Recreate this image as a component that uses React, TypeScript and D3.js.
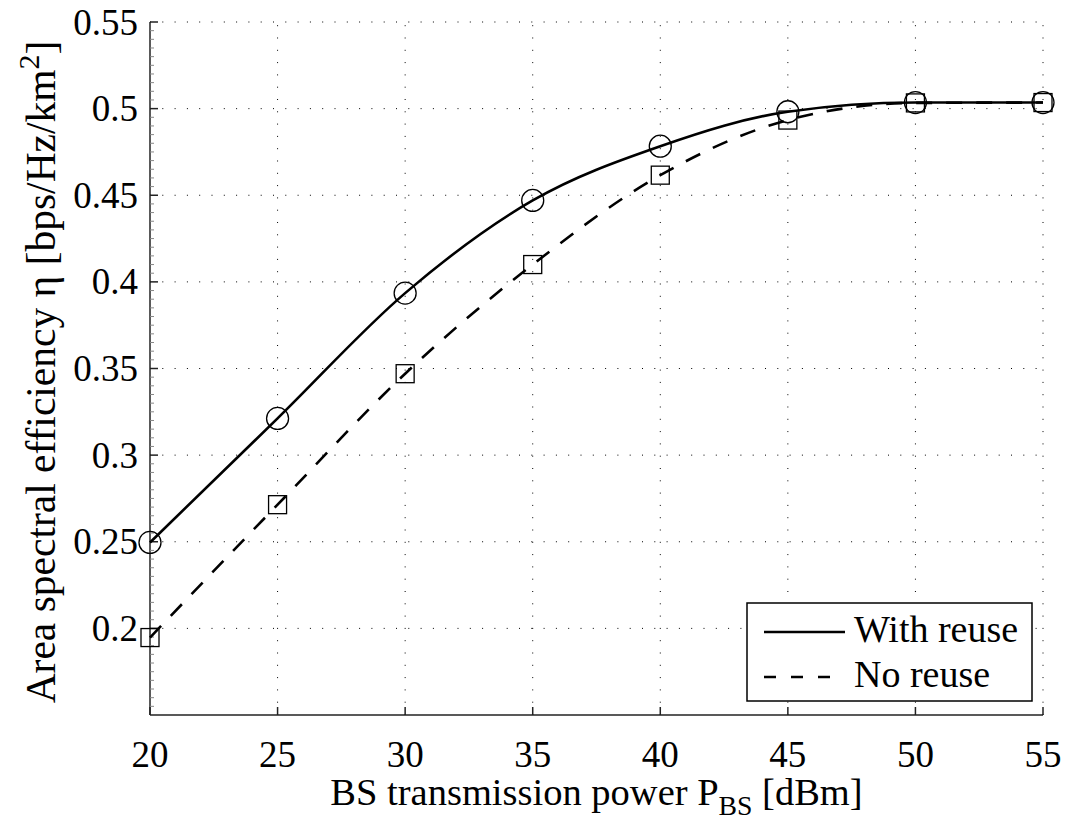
import React from "react";
import * as d3 from "d3";

// BS transmit power (dBm) at each evaluated point
const powers = [20, 25, 30, 35, 40, 45, 50, 55];
// Area spectral efficiency, with and without frequency reuse
const withReuse = [0.2496, 0.3212, 0.3935, 0.447, 0.4783, 0.4982, 0.5035, 0.5035];
const noReuse = [0.1947, 0.2714, 0.347, 0.41, 0.4616, 0.4934, 0.5033, 0.5035];

const xTicks = [20, 25, 30, 35, 40, 45, 50, 55];
const yTicks = [0.2, 0.25, 0.3, 0.35, 0.4, 0.45, 0.5, 0.55];
const yTickLabels = ["0.2", "0.25", "0.3", "0.35", "0.4", "0.45", "0.5", "0.55"];
const seriesNames = ["With reuse", "No reuse"];

const W = 1068;
const H = 821;
const left = 150;
const right = 1043;
const top = 22;
const bottom = 715;
const FONT = "Liberation Serif, Times New Roman, DejaVu Serif, serif";
const FS = 37;
const FS_X = 38.5;
const FS_Y = 41.5;
const FS_LEG = 38;

const txt: React.CSSProperties = { fontFamily: FONT };

export default function App() {
  const x = d3.scaleLinear().domain([20, 55]).range([left, right]);
  const y = d3.scaleLinear().domain([0.15, 0.55]).range([bottom, top]);

  const minorTicks = d3.range(0.155, 0.55, 0.005).filter(
    (v) => Math.abs(Math.round(v / 0.05) * 0.05 - v) > 1e-6
  );

  const line = d3
    .line<number>()
    .x((_, i) => x(powers[i]))
    .y((d) => y(d))
    .curve(d3.curveMonotoneX);

  const dot = "1,11.3";

  return (
    <svg
      width={W}
      height={H}
      style={{ position: "absolute", left: 0, top: 0, background: "#fff", fontFamily: FONT }}
    >
      <rect x={0} y={0} width={W} height={H} fill="#fff" />

      {/* dotted grid */}
      {xTicks.slice(1).map((t) => (
        <line
          key={"gx" + t}
          x1={x(t)}
          x2={x(t)}
          y1={bottom}
          y2={top}
          stroke="#000"
          strokeWidth={1}
          strokeDasharray={dot}
        />
      ))}
      {yTicks.map((t) => (
        <line
          key={"gy" + t}
          x1={left}
          x2={right}
          y1={y(t)}
          y2={y(t)}
          stroke="#000"
          strokeWidth={1}
          strokeDasharray={dot}
        />
      ))}

      {/* axes */}
      <line x1={left} x2={left} y1={top} y2={bottom} stroke="#222" strokeWidth={1.5} />
      <line x1={left} x2={right} y1={bottom} y2={bottom} stroke="#222" strokeWidth={1.5} />

      {/* minor y ticks */}
      {minorTicks.map((t, i) => (
        <line
          key={"my" + i}
          x1={left}
          x2={left + 4}
          y1={y(t)}
          y2={y(t)}
          stroke="#888"
          strokeWidth={1}
        />
      ))}

      {/* major ticks */}
      {yTicks.map((t) => (
        <line
          key={"ty" + t}
          x1={left}
          x2={left + 8}
          y1={y(t)}
          y2={y(t)}
          stroke="#222"
          strokeWidth={1.5}
        />
      ))}
      {xTicks.map((t) => (
        <line
          key={"tx" + t}
          x1={x(t)}
          x2={x(t)}
          y1={bottom}
          y2={bottom - 8}
          stroke="#222"
          strokeWidth={1.5}
        />
      ))}

      {/* tick labels */}
      {yTicks.map((t, i) => (
        <text
          key={"ly" + t}
          x={left - 12}
          y={y(t) + 12.5}
          fontSize={FS}
          textAnchor="end"
          fill="#000"
          style={txt}
        >
          {yTickLabels[i]}
        </text>
      ))}
      {xTicks.map((t) => (
        <text
          key={"lx" + t}
          x={x(t)}
          y={767}
          fontSize={FS}
          textAnchor="middle"
          fill="#000"
          style={txt}
        >
          {t}
        </text>
      ))}

      {/* curves */}
      <path d={line(withReuse) || ""} fill="none" stroke="#000" strokeWidth={2.6} />
      <path
        d={line(noReuse) || ""}
        fill="none"
        stroke="#000"
        strokeWidth={2.6}
        strokeDasharray="16,14"
      />

      {/* markers */}
      {withReuse.map((v, i) => (
        <circle
          key={"c" + i}
          cx={x(powers[i])}
          cy={y(v)}
          r={11}
          fill="none"
          stroke="#000"
          strokeWidth={1.3}
        />
      ))}
      {noReuse.map((v, i) => (
        <rect
          key={"s" + i}
          x={x(powers[i]) - 9}
          y={y(v) - 9}
          width={18}
          height={18}
          fill="none"
          stroke="#000"
          strokeWidth={1.3}
        />
      ))}

      {/* axis labels */}
      <text
        x={(left + right) / 2}
        y={805}
        fontSize={FS_X}
        textAnchor="middle"
        fill="#000"
        style={txt}
      >
        BS transmission power P
        <tspan fontSize={FS_X * 0.72} dy={10}>BS</tspan>
        <tspan dy={-10}> [dBm]</tspan>
      </text>
      <text
        transform={`translate(55, 372) rotate(-90)`}
        fontSize={FS_Y}
        textAnchor="middle"
        fill="#000"
        style={txt}
      >
        Area spectral efficiency η [bps/Hz/km
        <tspan fontSize={FS_Y * 0.72} dy={-16}>2</tspan>
        <tspan dy={16}>]</tspan>
      </text>

      {/* legend */}
      <rect x={747} y={603} width={285} height={98} fill="#fff" stroke="#000" strokeWidth={1.5} />
      <line x1={764} x2={845} y1={632} y2={632} stroke="#000" strokeWidth={2.6} />
      <line
        x1={764}
        x2={845}
        y1={677}
        y2={677}
        stroke="#000"
        strokeWidth={2.6}
        strokeDasharray="12,15"
      />
      <text x={854} y={642} fontSize={FS_LEG} fill="#000" style={txt}>
        {seriesNames[0]}
      </text>
      <text x={854} y={687} fontSize={FS_LEG} fill="#000" style={txt}>
        {seriesNames[1]}
      </text>
    </svg>
  );
}
